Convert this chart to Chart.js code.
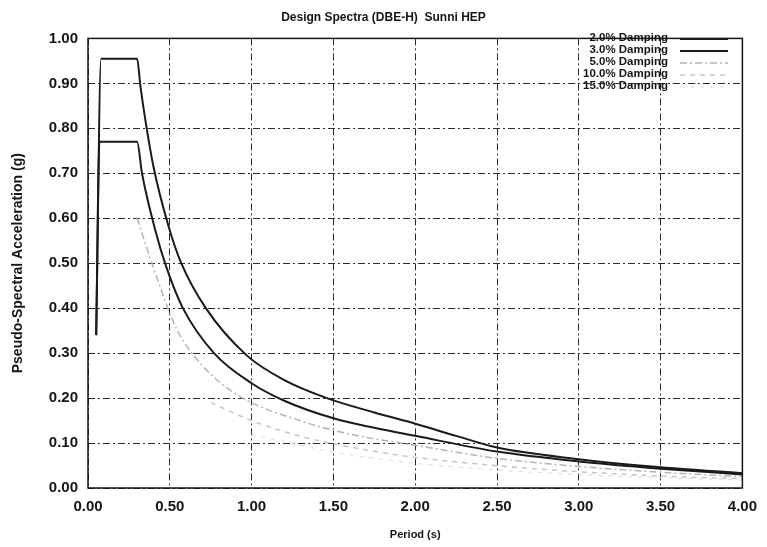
<!DOCTYPE html>
<html>
<head>
<meta charset="utf-8">
<script src="https://cdn.jsdelivr.net/npm/chart.js@4.4.1/dist/chart.umd.min.js"></script>
<style>
  html, body { margin: 0; padding: 0; background: #fff; }
</style>
</head>
<body>
<canvas id="spectraChart" width="767" height="547"></canvas>
<script>
// values (period in s, Sa in g)
const SERIES_LABELS = ['2.0% Damping', '3.0% Damping', '5.0% Damping', '10.0% Damping', '15.0% Damping'];

const PERIOD_2 = [0.05, 0.08, 0.30, 0.32, 0.35, 0.40, 0.49, 0.57, 0.72, 0.97, 1.20, 1.46, 1.75, 2.00, 2.25, 2.50, 3.00, 3.50, 4.00];
const SA_2     = [0.34, 0.955, 0.955, 0.895, 0.82, 0.715, 0.585, 0.50, 0.40, 0.295, 0.24, 0.20, 0.168, 0.143, 0.116, 0.090, 0.064, 0.046, 0.033];

const PERIOD_3 = [0.05, 0.07, 0.30, 0.33, 0.41, 0.48, 0.58, 0.77, 1.00, 1.20, 1.50, 1.75, 2.00, 2.50, 3.00, 3.50, 4.00];
const SA_3     = [0.34, 0.77, 0.77, 0.70, 0.575, 0.49, 0.40, 0.30, 0.233, 0.194, 0.155, 0.134, 0.116, 0.081, 0.059, 0.043, 0.030];

const PERIOD_5 = [0.30, 0.40, 0.54, 0.68, 0.90, 1.32, 1.60, 2.00, 2.50, 3.00, 3.50, 4.00];
const SA_5     = [0.60, 0.49, 0.355, 0.28, 0.21, 0.147, 0.12, 0.095, 0.066, 0.048, 0.035, 0.025];

const PERIOD_10 = [0.75, 1.00, 1.30, 1.62, 2.00, 2.40, 2.80, 3.20, 3.60, 4.00];
const SA_10     = [0.19, 0.15, 0.115, 0.09, 0.068, 0.053, 0.041, 0.032, 0.025, 0.021];

const PERIOD_15 = [1.00, 1.50, 2.00, 2.50, 3.00, 3.50, 4.00];
const SA_15     = [0.12, 0.08, 0.055, 0.04, 0.03, 0.023, 0.018];

const X_TICK_STEP = 0.5;
const Y_TICK_STEP = 0.1;

const toPoints = (xs, ys) => xs.map((x, i) => ({ x: x, y: ys[i] }));

const FONT = '"Liberation Sans", Arial, sans-serif';
const INK = '#151515';

// key drawn by hand: text right-aligned, sample to the right of it
const keyPlugin = {
  id: 'keyAndFrame',
  afterDatasetsDraw(chart) {
    const { ctx, chartArea: a } = chart;
    ctx.save();
    ctx.setLineDash([]);
    ctx.strokeStyle = INK;
    ctx.lineWidth = 1.5;
    ctx.strokeRect(a.left, a.top, a.right - a.left, a.bottom - a.top);

    ctx.font = 'bold 11.5px ' + FONT;
    ctx.textAlign = 'right';
    ctx.textBaseline = 'middle';
    chart.data.datasets.forEach((ds, i) => {
      const y = 38 + i * 12;
      ctx.fillStyle = INK;
      ctx.fillText(ds.label, 668, y);
      ctx.strokeStyle = ds.borderColor;
      ctx.lineWidth = ds.borderWidth;
      ctx.setLineDash(ds.borderDash || []);
      ctx.beginPath();
      ctx.moveTo(680, y + 1);
      ctx.lineTo(728, y + 1);
      ctx.stroke();
    });
    ctx.restore();
  }
};

const lineStyle = (color, width, dash) => ({
  borderColor: color,
  borderWidth: width,
  borderDash: dash,
  pointRadius: 0,
  fill: false,
  cubicInterpolationMode: 'monotone'
});

new Chart(document.getElementById('spectraChart'), {
  type: 'line',
  data: {
    datasets: [
      Object.assign({ label: SERIES_LABELS[0], data: toPoints(PERIOD_2, SA_2) }, lineStyle('#1a1a1a', 2, [])),
      Object.assign({ label: SERIES_LABELS[1], data: toPoints(PERIOD_3, SA_3) }, lineStyle('#1a1a1a', 2, [])),
      Object.assign({ label: SERIES_LABELS[2], data: toPoints(PERIOD_5, SA_5) }, lineStyle('#b4b4b4', 1.5, [7, 3, 2, 3])),
      Object.assign({ label: SERIES_LABELS[3], data: toPoints(PERIOD_10, SA_10) }, lineStyle('#c4c4c4', 1.5, [5, 5])),
      Object.assign({ label: SERIES_LABELS[4], data: toPoints(PERIOD_15, SA_15) }, lineStyle('#dedede', 1.2, [4, 6]))
    ]
  },
  options: {
    responsive: false,
    animation: false,
    layout: { padding: { left: 20, right: 20, top: 0, bottom: 0 } },
    plugins: {
      legend: { display: false },
      tooltip: { enabled: false },
      title: {
        display: true,
        text: 'Design Spectra (DBE-H)  Sunni HEP',
        color: INK,
        font: { family: FONT, size: 12, weight: 'bold' },
        padding: { top: 10, bottom: 14 }
      }
    },
    scales: {
      x: {
        type: 'linear',
        min: 0,
        max: 4,
        afterFit: s => { s.height = 59; },
        ticks: {
          stepSize: X_TICK_STEP,
          color: INK,
          padding: 10,
          maxRotation: 0,
          font: { family: FONT, size: 15, weight: 'bold' },
          callback: v => Number(v).toFixed(2)
        },
        grid: { color: '#2a2a2a', lineWidth: 1, drawTicks: false },
        border: { display: false, dash: [7, 3, 2, 3] },
        title: {
          display: true,
          text: 'Period (s)',
          color: INK,
          font: { family: FONT, size: 11, weight: 'bold' },
          padding: { top: 0, bottom: 5 }
        }
      },
      y: {
        min: 0,
        max: 1,
        afterFit: s => { s.width = 68; },
        ticks: {
          stepSize: Y_TICK_STEP,
          color: INK,
          padding: 10,
          font: { family: FONT, size: 15, weight: 'bold' },
          callback: v => Number(v).toFixed(2)
        },
        grid: { color: '#2a2a2a', lineWidth: 1, drawTicks: false },
        border: { display: false, dash: [7, 3, 2, 3] },
        title: {
          display: true,
          text: 'Pseudo-Spectral Acceleration (g)',
          color: INK,
          font: { family: FONT, size: 14, weight: 'bold' },
          padding: { top: -10, bottom: 0 }
        }
      }
    }
  },
  plugins: [keyPlugin]
});
</script>
</body>
</html>
